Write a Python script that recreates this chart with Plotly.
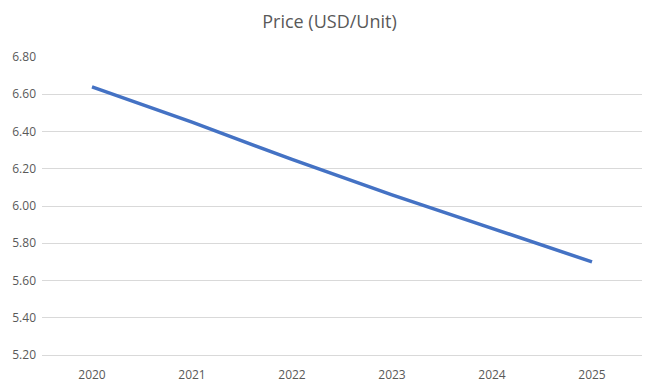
import plotly.graph_objects as go

years = ["2020", "2021", "2022", "2023", "2024", "2025"]
price = [6.64, 6.45, 6.25, 6.06, 5.88, 5.70]

fig = go.Figure()
fig.add_trace(go.Scatter(
    x=years, y=price, mode="lines",
    line=dict(color="#4472C4", width=3.5),
    hoverinfo="x+y",
))

fig.update_layout(
    width=659, height=391,
    paper_bgcolor="white", plot_bgcolor="white",
    margin=dict(l=42, r=17, t=57, b=36),
    title=dict(text="Price (USD/Unit)", x=0.5, xanchor="center", y=0.945, yanchor="middle",
               font=dict(family="Open Sans, Noto Sans, sans-serif", size=18, color="#595959")),
    font=dict(family="Open Sans, Noto Sans, sans-serif", size=12, color="#595959"),
    showlegend=False,
    xaxis=dict(type="category", range=[-0.5, 5.5], showgrid=False, showline=True,
               linecolor="#D9D9D9", linewidth=1, ticks="", ticklabelstandoff=9, zeroline=False,
               automargin=False),
    yaxis=dict(range=[5.2, 6.8], dtick=0.2, tick0=5.2, tickformat=".2f", showgrid=True,
               gridcolor="#D9D9D9", gridwidth=1, showline=False, ticks="", zeroline=False,
               ticklabelstandoff=5, automargin=False),
)

fig.write_html("out.html", config={"displayModeBar": False},
               post_script="document.body.style.margin='0';document.body.style.padding='0';")
